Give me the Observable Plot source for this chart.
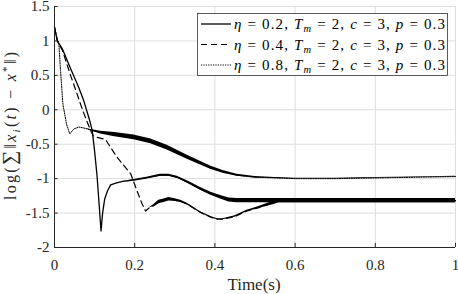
<!DOCTYPE html>
<html><head><meta charset="utf-8">
<script src="https://cdn.jsdelivr.net/npm/d3@7"></script>
<script src="https://cdn.jsdelivr.net/npm/@observablehq/plot@0.6"></script>
<style>body{margin:0;background:#fff}</style>
</head><body><div id="chart"></div>
<script>
// ---- data ----
const xTicks = [0, 0.2, 0.4, 0.6, 0.8, 1];
const yTicks = [-2, -1.5, -1, -0.5, 0, 0.5, 1, 1.5];

// eta = 0.2 (solid)
const t02 = [0, 0.007, 0.02, 0.04, 0.06, 0.073, 0.088, 0.094, 0.1, 0.106, 0.111, 0.116, 0.12, 0.125, 0.132, 0.14, 0.155, 0.17, 0.198, 0.23, 0.264, 0.285, 0.306, 0.335, 0.364, 0.39, 0.414, 0.435, 0.455, 0.5, 0.6, 0.7, 0.8, 0.9, 1];
const y02 = [1.2, 1.0, 0.88, 0.6, 0.33, 0.13, -0.16, -0.3, -0.6, -0.95, -1.35, -1.76, -1.5, -1.3, -1.18, -1.09, -1.06, -1.04, -1.02, -0.99, -0.95, -0.95, -0.98, -1.06, -1.15, -1.22, -1.27, -1.31, -1.32, -1.32, -1.32, -1.32, -1.32, -1.32, -1.32];
const a02 = [0,0,0,0,0,0,0,0,0,0,0,0,0,0,0,0,0,0, 0.008, 0.012, 0.015, 0.015, 0.015, 0.018, 0.02, 0.022, 0.025, 0.03, 0.03, 0.03, 0.03, 0.03, 0.03, 0.03, 0.03];

// eta = 0.4 (dashed)
const t04 = [0, 0.007, 0.02, 0.04, 0.048, 0.065, 0.077, 0.09, 0.097, 0.106, 0.127, 0.156, 0.19, 0.206, 0.218, 0.227, 0.235, 0.248, 0.26, 0.273, 0.285, 0.298, 0.315, 0.331, 0.364, 0.39, 0.406, 0.42, 0.45, 0.48, 0.51, 0.53, 0.547, 0.56, 0.6, 0.7, 0.8, 0.9, 1];
const y04 = [1.2, 1.0, 0.86, 0.5, 0.37, 0.08, -0.11, -0.3, -0.38, -0.40, -0.43, -0.69, -0.93, -1.18, -1.36, -1.47, -1.43, -1.39, -1.34, -1.32, -1.30, -1.31, -1.33, -1.37, -1.49, -1.56, -1.59, -1.59, -1.55, -1.47, -1.42, -1.38, -1.35, -1.32, -1.32, -1.32, -1.32, -1.32, -1.32];
const a04 = [0,0,0,0,0,0,0,0,0,0,0,0,0,0,0,0,0, 0.015, 0.025, 0.025, 0.025, 0.02, 0.015, 0.012, 0.01, 0.01, 0.008, 0.008, 0.01, 0.012, 0.015, 0.02, 0.025, 0.03, 0.03, 0.03, 0.03, 0.03, 0.03];

// eta = 0.8 (dotted)
const t08 = [0, 0.006, 0.011, 0.015, 0.021, 0.03, 0.038, 0.048, 0.061, 0.077, 0.094, 0.115, 0.15, 0.198, 0.24, 0.281, 0.331, 0.389, 0.42, 0.455, 0.5, 0.55, 0.6, 0.7, 0.8, 0.9, 1];
const y08 = [1.2, 1.05, 0.95, 0.57, 0.08, -0.21, -0.35, -0.28, -0.25, -0.27, -0.30, -0.33, -0.36, -0.40, -0.46, -0.55, -0.69, -0.84, -0.90, -0.95, -0.98, -0.99, -1.0, -1.0, -0.99, -0.98, -0.97];
const a08 = [0,0,0,0,0,0,0,0,0,0, 0.01, 0.02, 0.03, 0.035, 0.035, 0.035, 0.03, 0.025, 0.02, 0.015, 0.01, 0.008, 0.006, 0.005, 0.005, 0.005, 0.005];

const etaLabels = ["0.2", "0.4", "0.8"];
const dashes = [null, "6,4", "1.2,1.2"];

// ---- build ----
const mk = (t, y, a) => t.map((v, i) => ({t: v, y: y[i], a: a[i]}));
const s02 = mk(t02, y02, a02), s04 = mk(t04, y04, a04), s08 = mk(t08, y08, a08);
const FONT = "Liberation Serif, DejaVu Serif, serif";
const AX = "#262626";

const band = (d) => Plot.areaY(d, {x: "t", y1: r => r.y - r.a, y2: r => r.y + r.a, fill: "black"});

const svg = Plot.plot({
  width: 458, height: 294,
  marginTop: 6, marginRight: 3, marginBottom: 47, marginLeft: 54,
  style: {fontFamily: FONT, background: "white", color: AX},
  x: {domain: [0, 1]},
  y: {domain: [-2, 1.5]},
  marks: [
    Plot.gridX({ticks: xTicks, stroke: "#dedede", strokeOpacity: 1}),
    Plot.gridY({ticks: yTicks, stroke: "#dedede", strokeOpacity: 1}),
    band(s08), band(s04), band(s02),
    Plot.line(s08, {x: "t", y: "y", stroke: "black", strokeWidth: 1, strokeDasharray: dashes[2]}),
    Plot.line(s04, {x: "t", y: "y", stroke: "black", strokeWidth: 1.2, strokeDasharray: dashes[1]}),
    Plot.line(s02, {x: "t", y: "y", stroke: "black", strokeWidth: 1.3}),
    Plot.ruleX(xTicks, {x: d => d, y1: -2, y2: -1.94, stroke: AX}),
    Plot.ruleY(yTicks, {y: d => d, x1: 0, x2: 0.009, stroke: AX}),
    Plot.ruleX([0], {stroke: AX}),
    Plot.ruleY([-2], {stroke: AX}),
    Plot.axisX({ticks: xTicks, tickSize: 0, tickPadding: 12, fontSize: 15, fontFamily: FONT, tickFormat: d => String(d), label: null}),
    Plot.axisY({ticks: yTicks, tickSize: 0, tickPadding: 5, fontSize: 15, fontFamily: FONT, tickFormat: d => String(d), label: null})
  ]
});
document.getElementById("chart").appendChild(svg);

const g = d3.select(svg);

// x label
g.append("text").attr("x", 254).attr("y", 290).attr("text-anchor", "middle")
  .style("font-family", FONT).style("font-size", "17px").attr("fill", AX).text("Time(s)");

// y label
const yl = g.append("text").attr("transform", "translate(16,126) rotate(-90)")
  .attr("text-anchor", "middle").style("font-family", FONT).style("font-size", "16px").attr("fill", AX)
  .attr("textLength", 148).attr("lengthAdjust", "spacing");
yl.append("tspan").text("log(");
yl.append("tspan").style("font-size", "20px").text("∑");
yl.append("tspan").text("‖");
yl.append("tspan").style("font-style", "italic").text("x");
yl.append("tspan").style("font-style", "italic").style("font-size", "11px").attr("dy", 4).text("i");
yl.append("tspan").attr("dy", -4).text("(");
yl.append("tspan").style("font-style", "italic").text("t");
yl.append("tspan").text(") − ");
yl.append("tspan").style("font-style", "italic").text("x");
yl.append("tspan").style("font-size", "11px").attr("dy", -6).text("*");
yl.append("tspan").attr("dy", 6).text("‖)");

// legend
const lg = g.append("g").attr("text-anchor", "start");
lg.append("rect").attr("x", 197.5).attr("y", 13.5).attr("width", 250).attr("height", 62)
  .attr("fill", "white").attr("stroke", "#333").attr("stroke-width", 0.8);
const rowY = [24, 44.5, 65];
etaLabels.forEach((eta, i) => {
  const y = rowY[i];
  lg.append("line").attr("x1", 201).attr("x2", 231).attr("y1", y).attr("y2", y)
    .attr("stroke", "black").attr("stroke-width", i === 0 ? 1.3 : (i === 1 ? 1.2 : 1))
    .attr("stroke-dasharray", dashes[i]);
  const tx = lg.append("text").attr("x", 234).attr("y", y + 5).attr("text-anchor", "start")
    .style("font-family", FONT).style("font-size", "15px").attr("fill", "black")
    .attr("textLength", 211).attr("lengthAdjust", "spacing");
  tx.append("tspan").style("font-style", "italic").text("η");
  tx.append("tspan").text(" = " + eta + ", ");
  tx.append("tspan").style("font-style", "italic").text("T");
  tx.append("tspan").style("font-style", "italic").style("font-size", "10.5px").attr("dy", 3).text("m");
  tx.append("tspan").attr("dy", -3).text(" = 2, ");
  tx.append("tspan").style("font-style", "italic").text("c");
  tx.append("tspan").text(" = 3, ");
  tx.append("tspan").style("font-style", "italic").text("p");
  tx.append("tspan").text(" = 0.3");
});
</script>
</body></html>
